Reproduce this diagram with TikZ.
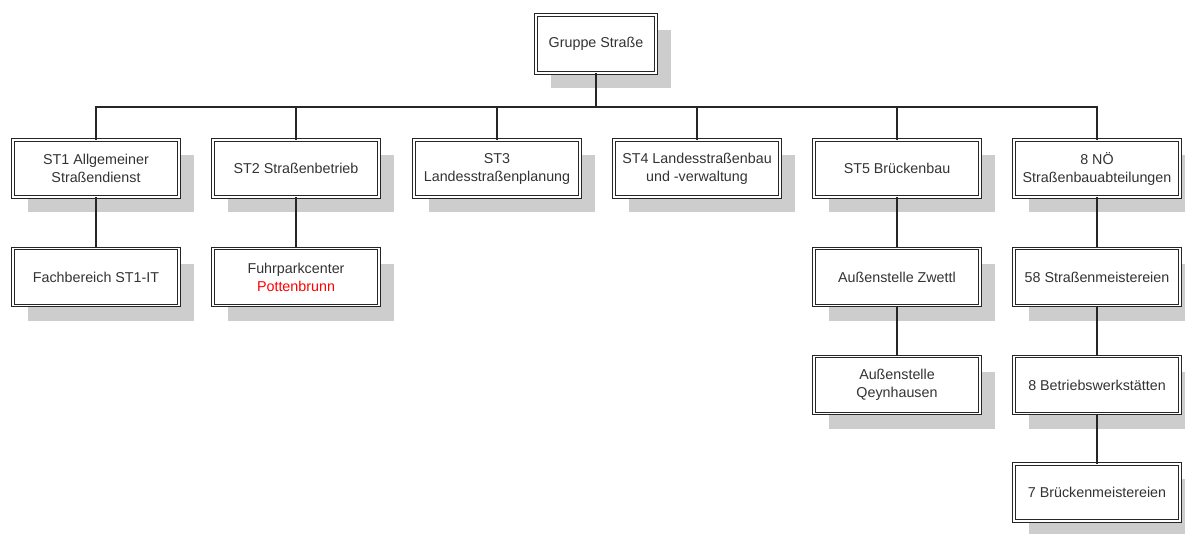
\documentclass[tikz,border=0pt]{standalone}
\usepackage{fontspec}
\setmainfont{Liberation Sans}
\usetikzlibrary{shadows}
\definecolor{boxtext}{HTML}{333333}
\definecolor{boxline}{HTML}{262626}
\definecolor{shade}{HTML}{CDCDCD}
\tikzset{
    unit/.style={rectangle, draw=boxline, line width=0.9pt, double=white, double distance=1.5pt,
        fill=white, minimum width=166pt, minimum height=57pt, align=center, inner sep=0pt,
        text=boxtext, font=\fontsize{14.3}{18}\selectfont,
        drop shadow={shadow xshift=15pt, shadow yshift=-15pt, fill=shade, opacity=1}}
}
\tikzset{link/.style={draw=boxline, line width=1.1pt}}
\begin{document}
\begin{tikzpicture}[x=1pt, y=-1pt]
    \useasboundingbox (0,0) rectangle (1185,533);

    \node (gruppe) at (596, 44) [unit, minimum width=120pt, minimum height=58pt] {Gruppe Straße};

    \node (st1) at (96, 168.5) [unit] {ST1 Allgemeiner\\Straßendienst};
    \node (st2) at (296, 168.5) [unit] {ST2 Straßenbetrieb};
    \node (st3) at (497, 168.5) [unit] {ST3\\Landesstraßenplanung};
    \node (st4) at (697, 168.5) [unit] {ST4 Landesstraßenbau\\und -verwaltung};
    \node (st5) at (897, 168.5) [unit] {ST5 Brückenbau};
    \node (noe) at (1097, 168.5) [unit] {8 NÖ\\Straßenbauabteilungen};

    \node (fach) at (96, 277) [unit] {Fachbereich ST1-IT};
    \node (fuhr) at (296, 277) [unit] {Fuhrparkcenter\\\textcolor{red}{Pottenbrunn}};
    \node (zwettl) at (897, 277) [unit] {Außenstelle Zwettl};
    \node (smei) at (1097, 277) [unit] {58 Straßenmeistereien};

    \node (oeyn) at (897, 385) [unit] {Außenstelle\\Qeynhausen};
    \node (bws) at (1097, 385) [unit] {8 Betriebswerkstätten};

    \node (bmei) at (1097, 492.5) [unit] {7 Brückenmeistereien};

    \coordinate (bus) at (596, 107);

    \draw[link] (gruppe) -- (bus);
    \draw[link] (bus) -| (st1);
    \draw[link] (bus) -| (st2);
    \draw[link] (bus) -| (st3);
    \draw[link] (bus) -| (st4);
    \draw[link] (bus) -| (st5);
    \draw[link] (bus) -| (noe);

    \draw[link] (st1) edge (fach);
    \draw[link] (st2) edge (fuhr);
    \draw[link] (st5) edge (zwettl);
    \draw[link] (zwettl) edge (oeyn);
    \draw[link] (noe) edge (smei);
    \draw[link] (smei) edge (bws);
    \draw[link] (bws) edge (bmei);
\end{tikzpicture}
\end{document}
